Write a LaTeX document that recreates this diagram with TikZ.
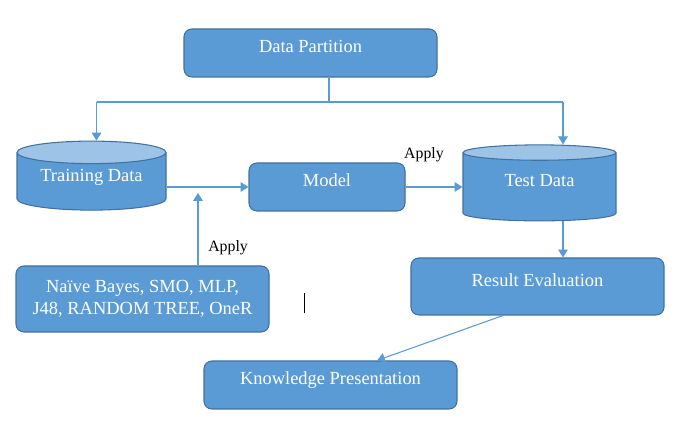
\documentclass[tikz,border=0pt]{standalone}
\usepackage{fontspec}
\setmainfont{Liberation Serif}
\usetikzlibrary{shapes.geometric, arrows.meta}
\definecolor{boxblue}{HTML}{5B9BD5}
\definecolor{edgeblue}{HTML}{41719C}
\definecolor{topblue}{HTML}{9DC3E6}
\tikzstyle{block} = [
    rectangle,
    rounded corners=4.5pt,
    fill=boxblue,
    draw=edgeblue,
    line width=0.6pt,
    text=white,
    font=\fontsize{10.5}{12.5}\selectfont,
    inner sep=0pt
]
\tikzstyle{process} = [
    block,
    text height=0.3cm,
    text depth=0.3cm
]
\tikzstyle{algo} = [
    block,
    align=center
]
\tikzstyle{database} = [
    cylinder,
    shape border rotate=90,
    aspect=0.22,
    cylinder uses custom fill,
    cylinder body fill=boxblue,
    cylinder end fill=topblue,
    draw=edgeblue,
    line width=0.6pt,
    text=white,
    font=\fontsize{10.5}{12.5}\selectfont,
    text height=0.25cm,
    text depth=0.25cm,
    inner sep=0pt
]
\tikzstyle{link} = [draw=boxblue, line width=0.6pt]
\tikzstyle{arrow} = [link, -{Triangle[width=5.5pt,length=4.5pt]}]
\tikzstyle{applytxt} = [font=\fontsize{9}{11}\selectfont, inner sep=1pt]

\begin{document}
\begin{tikzpicture}

\fill[white] (0,0) rectangle (13.56,8.72);
\useasboundingbox (0,0) rectangle (13.56,8.72);

\node (part) [process, minimum width=5.06cm, minimum height=0.96cm]
at (6.21,7.66) {Data Partition};

\node (train) [database, minimum width=2.98cm, minimum height=1.38cm]
at (1.83,5.09) {Training Data};

\node (model) [process, minimum width=3.12cm, minimum height=0.96cm]
at (6.54,4.98) {Model};

\node (test) [database, minimum width=3.06cm, minimum height=1.52cm]
at (10.79,4.98) {Test Data};

\node (result) [process, minimum width=5.06cm, minimum height=1.14cm]
at (10.75,2.99) {Result Evaluation};

\node (algos) [algo, minimum width=5.06cm, minimum height=1.32cm]
at (2.85,2.74) {Naïve Bayes, SMO, MLP,\\J48, RANDOM TREE, OneR};

\node (know) [process, minimum width=5.06cm, minimum height=0.96cm]
at (6.61,1.02) {Knowledge Presentation};

\node (apply2) [applytxt] at (8.48,5.62) {Apply};

% split points
\coordinate (ldrop) at (1.93,6.68);
\coordinate (tdrop) at (11.26,6.68);
\coordinate (meet) at (3.96,4.86);

\draw [link] ([xshift=0.37cm]part.south) -- ([xshift=0.37cm]part.south |- ldrop);
\draw [link] (ldrop) -- (tdrop);
\draw [arrow] (ldrop) -- (ldrop |- train.north);
\draw [arrow] (tdrop) -- (tdrop |- test.north);

\draw [arrow] (train.east |- model.west) -- (model.west);
\draw [arrow] (model.east) -- (model.east -| test.west);
\draw [arrow] (algos.north -| meet) -- node[applytxt, pos=0.24, right=0.16cm] {Apply} (meet);

\draw [arrow] (tdrop |- test.south) -- (tdrop |- result.north);
\draw [arrow] ([xshift=-0.69cm]result.south) -- ([xshift=0.93cm]know.north);

% cursor
\draw [black, line width=0.5pt] (6.08,2.86) -- (6.08,2.46);

\end{tikzpicture}
\end{document}
